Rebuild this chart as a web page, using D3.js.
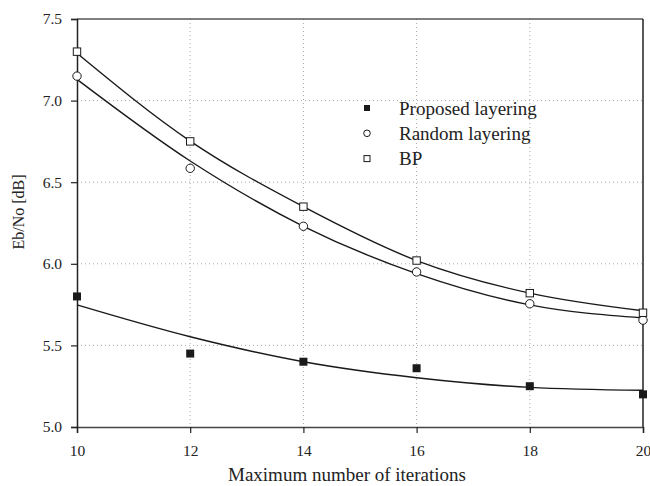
<!DOCTYPE html>
<html>
<head>
<meta charset="utf-8">
<script src="https://cdn.jsdelivr.net/npm/d3@7"></script>
<style>
  body { margin: 0; background: #fff; }
  text { font-family: "Liberation Serif", "DejaVu Serif", serif; fill: #222; }
</style>
</head>
<body>
<svg id="chart"></svg>
<script>
// iterations on x axis
const iterations = [10, 12, 14, 16, 18, 20];

// measured points
const proposed = [5.80, 5.45, 5.40, 5.36, 5.25, 5.20];
const random = [7.15, 6.585, 6.23, 5.95, 5.755, 5.655];
const bp = [7.30, 6.75, 6.35, 6.02, 5.82, 5.70];

// fitted curves at the same iterations
const proposedFit = [5.748, 5.553, 5.40, 5.302, 5.243, 5.225];
const randomFit = [7.13, 6.63, 6.23, 5.94, 5.748, 5.668];
const bpFit = [7.29, 6.752, 6.35, 6.02, 5.82, 5.712];

const xTicks = [10, 12, 14, 16, 18, 20];
const yTicks = [5.0, 5.5, 6.0, 6.5, 7.0, 7.5];

const legendLabels = ["Proposed layering", "Random layering", "BP"];

const width = 650, height = 486;
const margin = { top: 19, right: 7, bottom: 59, left: 77 };
const innerW = width - margin.left - margin.right;
const innerH = height - margin.top - margin.bottom;

const svg = d3.select("#chart").attr("width", width).attr("height", height);
const g = svg.append("g").attr("transform", `translate(${margin.left},${margin.top})`);

const x = d3.scaleLinear().domain([10, 20]).range([0, innerW]);
const y = d3.scaleLinear().domain([5.0, 7.5]).range([innerH, 0]);

// dotted grid
g.append("g")
  .selectAll("line")
  .data(yTicks.slice(1, -1))
  .join("line")
  .attr("x1", 0).attr("x2", innerW)
  .attr("y1", d => y(d)).attr("y2", d => y(d))
  .attr("stroke", "#aaa").attr("stroke-dasharray", "1,3");
g.append("g")
  .selectAll("line")
  .data(xTicks.slice(1, -1))
  .join("line")
  .attr("x1", d => x(d)).attr("x2", d => x(d))
  .attr("y1", 0).attr("y2", innerH)
  .attr("stroke", "#aaa").attr("stroke-dasharray", "1,3");

// frame top and right
g.append("line").attr("x1", 0).attr("x2", innerW).attr("y1", 0).attr("y2", 0)
  .attr("stroke", "#555").attr("stroke-width", 1.5);
g.append("line").attr("x1", innerW).attr("x2", innerW).attr("y1", 0).attr("y2", innerH)
  .attr("stroke", "#222").attr("stroke-width", 1.5);

// axes
const xAxis = g.append("g")
  .attr("transform", `translate(0,${innerH})`)
  .call(d3.axisBottom(x).tickValues(xTicks).tickFormat(d3.format("d")).tickSize(6).tickPadding(12));
const yAxis = g.append("g")
  .call(d3.axisLeft(y).tickValues(yTicks).tickFormat(d3.format(".1f")).tickSize(6).tickPadding(9));

[xAxis, yAxis].forEach(a => {
  a.select(".domain").attr("stroke", "#222").attr("stroke-width", 1.5);
  a.selectAll(".tick line").attr("stroke", "#222").attr("stroke-width", 1.2);
  a.selectAll("text")
    .style("font-family", "Liberation Serif, serif")
    .style("font-size", "15.5px")
    .attr("fill", "#222");
});
xAxis.select(".domain").attr("stroke", "#444");

// fitted lines
const line = d3.line()
  .x((d, i) => x(iterations[i]))
  .y(d => y(d))
  .curve(d3.curveMonotoneX);

[proposedFit, randomFit, bpFit].forEach(s => {
  g.append("path")
    .datum(s)
    .attr("d", line)
    .attr("fill", "none")
    .attr("stroke", "#1a1a1a")
    .attr("stroke-width", 1.4);
});

// markers
g.append("g")
  .selectAll("rect")
  .data(proposed)
  .join("rect")
  .attr("x", (d, i) => x(iterations[i]) - 4)
  .attr("y", d => y(d) - 4)
  .attr("width", 8).attr("height", 8)
  .attr("fill", "#1a1a1a");

g.append("g")
  .selectAll("circle")
  .data(random)
  .join("circle")
  .attr("cx", (d, i) => x(iterations[i]))
  .attr("cy", d => y(d))
  .attr("r", 4.2)
  .attr("fill", "#fff")
  .attr("stroke", "#1a1a1a")
  .attr("stroke-width", 1);

g.append("g")
  .selectAll("rect")
  .data(bp)
  .join("rect")
  .attr("x", (d, i) => x(iterations[i]) - 3.7)
  .attr("y", d => y(d) - 3.7)
  .attr("width", 7.4).attr("height", 7.4)
  .attr("fill", "#fff")
  .attr("stroke", "#1a1a1a")
  .attr("stroke-width", 1);

// legend
const legend = svg.append("g").attr("transform", "translate(367,108)");
legendLabels.forEach((label, i) => {
  const row = legend.append("g").attr("transform", `translate(0,${i * 25.3})`);
  if (i === 0) {
    row.append("rect").attr("x", -3).attr("y", -3).attr("width", 6).attr("height", 6).attr("fill", "#1a1a1a");
  } else if (i === 1) {
    row.append("circle").attr("r", 3.3).attr("fill", "#fff").attr("stroke", "#1a1a1a");
  } else {
    row.append("rect").attr("x", -3).attr("y", -3).attr("width", 6).attr("height", 6)
      .attr("fill", "#fff").attr("stroke", "#1a1a1a");
  }
  row.append("text")
    .attr("x", 32)
    .attr("y", 6.5)
    .style("font-size", "19px")
    .text(label);
});

// axis titles
svg.append("text")
  .attr("x", 347)
  .attr("y", 481)
  .attr("text-anchor", "middle")
  .style("font-size", "19px")
  .text("Maximum number of iterations");

svg.append("text")
  .attr("transform", "translate(24,212) rotate(-90)")
  .attr("text-anchor", "middle")
  .style("font-size", "16px")
  .text("Eb/No [dB]");
</script>
</body>
</html>
